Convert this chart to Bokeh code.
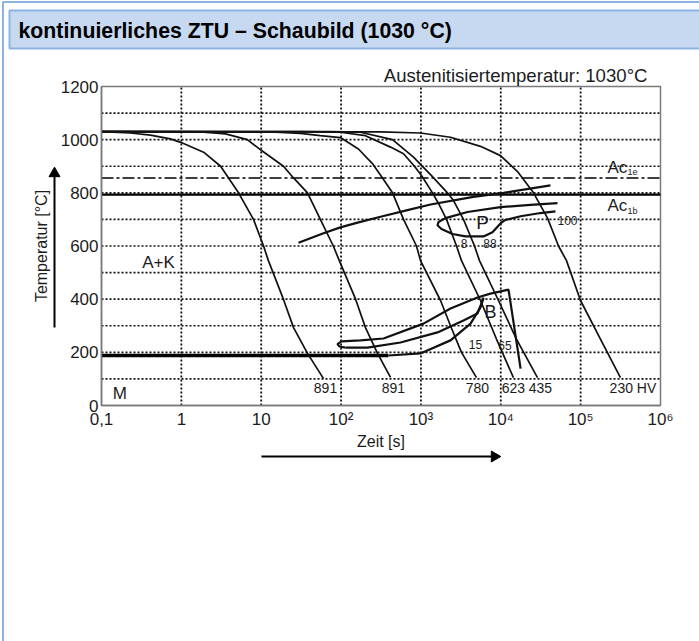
import math
from bokeh.plotting import figure
from bokeh.models import FixedTicker, Range1d, ColumnDataSource, CustomJSTickFormatter
from bokeh.embed import file_html
from bokeh.resources import INLINE
from bokeh.core.properties import value

FONT = "Liberation Sans"
INK = "#1c1c1c"

# ---------------- data ----------------
title_text = "kontinuierliches ZTU \u2013 Schaubild (1030 \u00b0C)"
aus_text = "Austenitisiertemperatur: 1030\u00b0C"

ac1e_T = 856
ac1b_T = 793
ms_T = 188
ms_end_t = 392

# cooling curves: time [s] / temperature [°C]
c1_t = [0.1, 0.23, 0.41, 0.73, 0.98, 1.9, 3.1, 5.2, 8.0, 10.7, 12.3, 19, 25.4, 38, 60]
c1_T = [1030, 1025, 1017, 1003, 990, 953, 900, 800, 700, 600, 545, 399, 293, 196, 102]

c2_t = [0.1, 1.74, 3.57, 6.7, 10.1, 19, 25.4, 38, 55, 80, 95, 152, 202, 286, 416]
c2_T = [1030, 1029, 1022, 1000, 959, 900, 856, 800, 700, 600, 545, 400, 293, 196, 106]

c3_t = [0.1, 13.1, 31, 55, 98, 165, 247, 330, 441, 605, 880, 988, 1760, 2345, 3220, 4960]
c3_T = [1030, 1029, 1024, 1015, 1008, 965, 910, 856, 800, 700, 600, 545, 395, 300, 200, 105]

c4_t = [0.1, 31, 98, 202, 416, 605, 830, 1016, 1396, 1660, 2090, 2790, 3220, 5570, 8830, 14400]
c4_T = [1030, 1030, 1028, 1015, 972, 947, 900, 865, 800, 760, 700, 600, 545, 395, 250, 105]

c5_t = [0.1, 73.8, 175, 441, 807, 1355, 2150, 2560, 3410, 4690, 5410, 9360, 15700, 28800]
c5_T = [1030, 1030, 1028, 1000, 934, 865, 800, 771, 700, 600, 545, 395, 250, 105]

c6_t = [0.1, 312, 986, 2345, 5570, 9910, 16200, 25700, 38500, 52800, 66500, 99600, 177000, 315000]
c6_T = [1030, 1029, 1025, 1009, 975, 940, 880, 800, 705, 600, 545, 395, 250, 105]

# pearlite start line and pearlite field
ps_t = [29.3, 60.3, 98, 161, 312, 679, 1318, 4550, 10800, 41900]
ps_T = [612, 648, 670, 688, 710, 735, 756, 785, 800, 828]

pf_t = [51300, 23600, 9910, 3830, 2031, 1660, 1612, 1808, 2485, 3614, 6070, 7870, 9910, 11400, 17700, 31400, 48400]
pf_T = [761, 755, 746, 728, 705, 690, 678, 664, 645, 636, 636, 652, 685, 698, 712, 724, 730]

# bainite field
bo_t = [113.5, 95.5, 90.2, 101, 175, 340, 1076, 2345, 5100, 7430, 12500, 17700]
bo_T = [218, 222, 231, 241, 245, 252, 308, 365, 406, 421, 436, 139]

bi_t = [113.5, 214, 555, 1612, 3410, 5100, 6070]
bi_T = [218, 218, 237, 275, 320, 346, 403]

bl_t = [392, 986, 2345, 4180, 5570, 6070]
bl_T = [188, 196, 245, 308, 369, 406]

# hardness values at the end of the curves
hv_labels = ["891", "891", "780", "623", "435", "230 HV"]
hv_t = [63.8, 453, 5100, 14400, 31400, 452000]
hv_T = [64, 64, 64, 64, 64, 64]

# region labels
reg_labels = ["A+K", "M", "P", "B"]
reg_t = [0.517, 0.17, 5900, 7430]
reg_T = [538, 47, 688, 352]
reg_size = ["17px", "17px", "19px", "18px"]

# percentage labels
pct_labels = ["8", "88", "100", "15", "65"]
pct_t = [3460, 7330, 68400, 4820, 11300]
pct_T = [609, 609, 696, 229, 226]

ac_labels = ["Ac", "Ac"]
ac_t = [216800, 216800]
ac_T = [895, 752]
ac_sub = ["1e", "1b"]
ac_sub_t = [385000, 385000]
ac_sub_T = [877, 733]

x_ticks = [0.1, 1, 10, 100, 1000, 10000, 100000, 1000000]
x_tick_labels = ["0,1", "1", "10", "10\u00b2", "10\u00b3", "10\u2074", "10\u2075", "10\u2076"]
x_grid = [1, 10, 100, 1000, 10000, 100000]
y_ticks = [0, 200, 400, 600, 800, 1000, 1200]
y_grid = [100, 200, 300, 400, 500, 600, 700, 800, 900, 1000, 1100]

# ---------------- page geometry ----------------
W, H = 699, 641
FR_L, FR_R, FR_T, FR_B = 101, 660, 86, 405     # chart frame on the page
X_MIN, X_MAX, Y_MIN, Y_MAX = x_ticks[0], x_ticks[-1], y_ticks[0], y_ticks[-1]
DEC_PX = (FR_R - FR_L) / (math.log10(X_MAX) - math.log10(X_MIN))
DEG_PX = (FR_B - FR_T) / (Y_MAX - Y_MIN)


def t_at(px):
    return 10 ** (math.log10(X_MIN) + (px - FR_L) / DEC_PX)


def T_at(py):
    return Y_MIN + (FR_B - py) / DEG_PX


p = figure(width=W, height=H, x_axis_type="log",
           x_range=Range1d(t_at(0), t_at(W)), y_range=Range1d(T_at(H), T_at(0)),
           output_backend="svg", toolbar_location=None, min_border=0)
p.min_border_left = p.min_border_right = p.min_border_top = p.min_border_bottom = 0
p.background_fill_color = "white"
p.border_fill_color = "white"
p.outline_line_color = None
p.grid.visible = False

# panel decoration: outer border and header bar
p.quad(left=[t_at(2.5)], right=[t_at(W + 20)], top=[T_at(1.5)], bottom=[T_at(H + 20)],
       fill_color=None, line_color="#8db3e2", line_width=2)
p.quad(left=[t_at(9)], right=[t_at(W + 20)], top=[T_at(10)], bottom=[T_at(48)],
       fill_color="#c6d9f1", line_color="#8db3e2", line_width=2)
p.text(x=[t_at(18)], y=[T_at(30)], text=[title_text], text_font=value(FONT),
       text_font_style="bold", text_font_size="21.3px", text_color="black",
       text_align="left", text_baseline="middle")

# grid (dotted)
p.segment(x0=x_grid, y0=[Y_MIN] * len(x_grid), x1=x_grid, y1=[Y_MAX] * len(x_grid),
          line_color="#111111", line_width=1.8, line_dash="2 2")
p.segment(x0=[X_MIN] * len(y_grid), y0=y_grid, x1=[X_MAX] * len(y_grid), y1=y_grid,
          line_color="#111111", line_width=1.6, line_dash="2 2")

# axes
p.xaxis.fixed_location = Y_MIN
p.xaxis.bounds = (X_MIN, X_MAX)
p.yaxis.fixed_location = X_MIN
p.yaxis.bounds = (Y_MIN, Y_MAX)
p.xaxis.ticker = FixedTicker(ticks=x_ticks)
p.yaxis.ticker = FixedTicker(ticks=y_ticks)
js_map = "{" + ",".join('"%d":"%s"' % (i - 1, s) for i, s in enumerate(x_tick_labels)) + "}"
p.xaxis.formatter = CustomJSTickFormatter(
    code="const m = %s; return m[String(Math.round(Math.log10(tick)))];" % js_map)
for ax in (p.xaxis, p.yaxis):
    ax.axis_line_color = "#7a7a7a"
    ax.axis_line_width = 1.5
    ax.major_tick_out = 0
    ax.major_tick_in = 0
    ax.minor_tick_out = 0
    ax.minor_tick_in = 0
    ax.major_label_text_font = FONT
    ax.major_label_text_font_size = "17px"
    ax.major_label_text_color = INK
    ax.axis_label_text_font = FONT
    ax.axis_label_text_font_size = "16px"
    ax.axis_label_text_font_style = "normal"
    ax.axis_label_text_color = INK
p.yaxis.major_label_standoff = 3
p.yaxis.axis_label = "Temperatur [\u00b0C]"
p.yaxis.axis_label_standoff = 8
p.xaxis.major_label_standoff = 4
p.xaxis.axis_label = "Zeit [s]"
p.xaxis.axis_label_standoff = 1

# chart frame
p.quad(left=[X_MIN], right=[X_MAX], bottom=[Y_MIN], top=[Y_MAX], fill_color=None,
       line_color="#7a7a7a", line_width=1.5)

# transformation lines
p.segment(x0=[X_MIN], y0=[ac1e_T], x1=[X_MAX], y1=[ac1e_T], line_color="black",
          line_width=1.5, line_dash="12 3 3 3")
p.segment(x0=[X_MIN], y0=[ac1b_T], x1=[X_MAX], y1=[ac1b_T], line_color="black", line_width=2.2)
p.segment(x0=[X_MIN], y0=[ms_T], x1=[ms_end_t], y1=[ms_T], line_color="black", line_width=3.5)

# cooling curves
for ct, cT in [(c1_t, c1_T), (c2_t, c2_T), (c3_t, c3_T), (c4_t, c4_T), (c5_t, c5_T), (c6_t, c6_T)]:
    p.line(ct, cT, line_color="#111111", line_width=1.7)

# pearlite / bainite fields
for ft, fT in [(ps_t, ps_T), (pf_t, pf_T), (bo_t, bo_T), (bi_t, bi_T), (bl_t, bl_T)]:
    p.line(ft, fT, line_color="#111111", line_width=2.2)

# texts
p.text(x=hv_t, y=hv_T, text=hv_labels, text_font=value(FONT), text_font_size="14px",
       text_color=INK, text_align="center", text_baseline="middle")
src_reg = ColumnDataSource(dict(x=reg_t, y=reg_T, text=reg_labels, size=reg_size))
p.text(x="x", y="y", text="text", source=src_reg, text_font=value(FONT), text_font_size="size",
       text_color=INK, text_align="center", text_baseline="middle")
p.text(x=pct_t, y=pct_T, text=pct_labels, text_font=value(FONT), text_font_size="12px",
       text_color=INK, text_align="center", text_baseline="middle")
p.text(x=ac_t, y=ac_T, text=ac_labels, text_font=value(FONT), text_font_size="17px",
       text_color=INK, text_align="left", text_baseline="middle")
p.text(x=ac_sub_t, y=ac_sub_T, text=ac_sub, text_font=value(FONT), text_font_size="9px",
       text_color=INK, text_align="left", text_baseline="middle")
p.text(x=[t_at(647)], y=[T_at(74.5)], text=[aus_text], text_font=value(FONT),
       text_font_size="18.6px", text_color=INK, text_align="right", text_baseline="middle")

# axis arrows
p.segment(x0=[t_at(54)], y0=[T_at(327)], x1=[t_at(54)], y1=[T_at(176)],
          line_color="black", line_width=2)
p.scatter(x=[t_at(54)], y=[T_at(173)], marker="triangle", size=11,
          fill_color="black", line_color="black")
p.segment(x0=[t_at(261)], y0=[T_at(456)], x1=[t_at(491)], y1=[T_at(456)],
          line_color="black", line_width=2)
p.scatter(x=[t_at(494)], y=[T_at(456)], marker="triangle", size=11, angle=-math.pi / 2,
          fill_color="black", line_color="black")

open("out.html", "w").write(file_html(p, INLINE))
